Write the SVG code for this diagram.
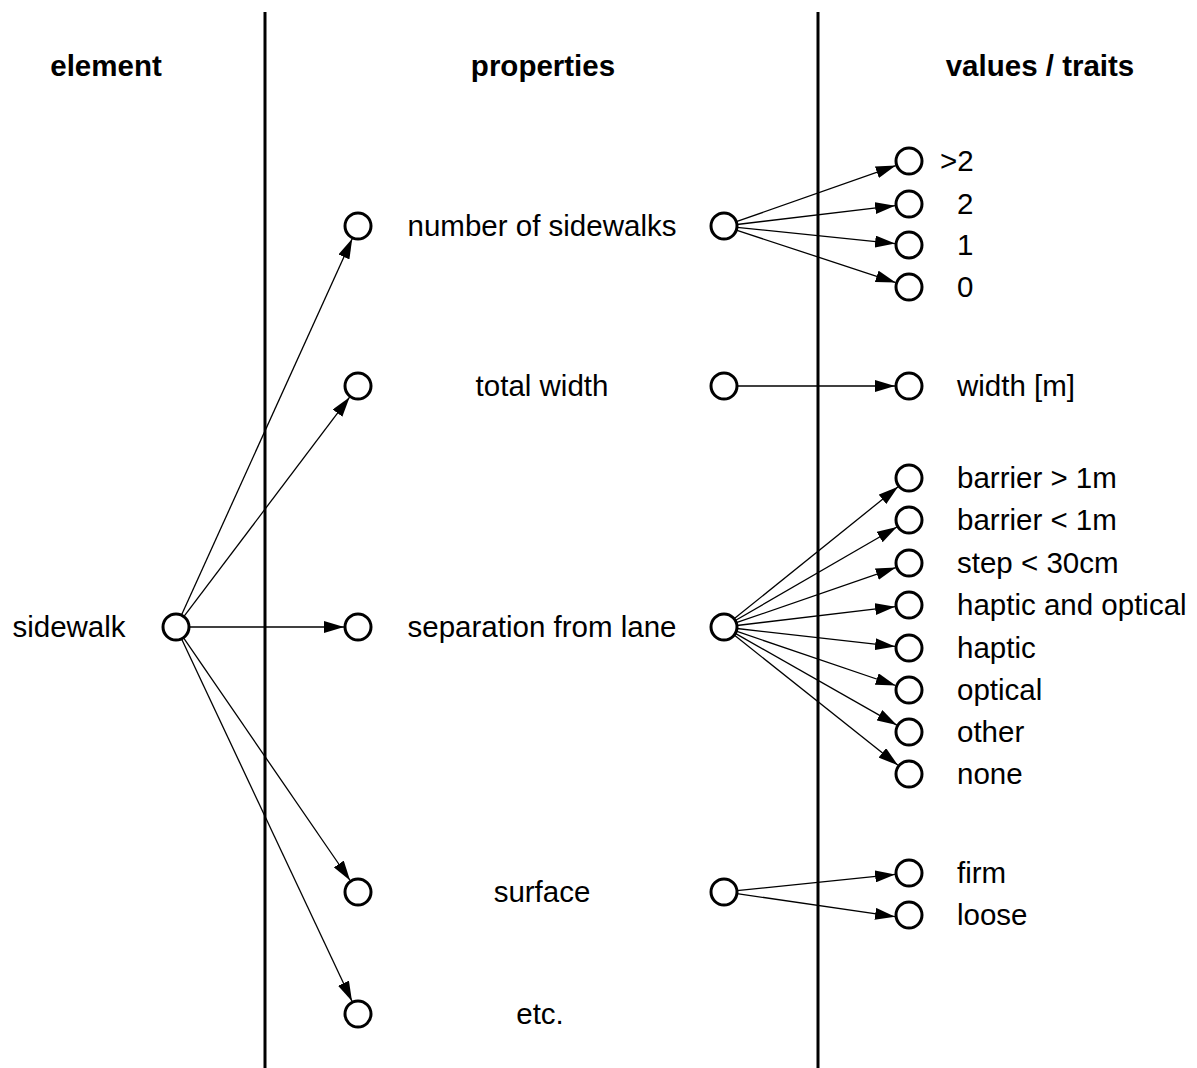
<svg xmlns="http://www.w3.org/2000/svg" width="1197" height="1068" viewBox="0 0 1197 1068">
<style>
.n{fill:#fff;stroke:#000;stroke-width:3}
.t{font-family:"Liberation Sans",Arial,sans-serif;font-size:29.5px;fill:#000}
.h{font-weight:bold;text-anchor:middle}
.c{text-anchor:middle}
.e{stroke:#000;stroke-width:1.3;fill:none;marker-end:url(#a)}
.d{stroke:#000;stroke-width:3}
</style>
<defs>
<marker id="a" markerUnits="userSpaceOnUse" markerWidth="20" markerHeight="12" refX="20" refY="6" orient="auto">
<path d="M0,0 L20,6 L0,12 z" fill="#000"/>
</marker>
</defs>
<rect width="1197" height="1068" fill="#fff"/>
<g id="dividers">
<line class="d" x1="265" y1="12" x2="265" y2="1068"/>
<line class="d" x1="818" y1="12" x2="818" y2="1068"/>
</g>
<g id="headers">
<text class="t h" x="106" y="76">element</text>
<text class="t h" x="543" y="76">properties</text>
<text class="t h" x="1040" y="76">values / traits</text>
</g>
<g id="connectors">
<line class="e" x1="181.4" y1="615.2" x2="352.2" y2="238.7"/>
<line class="e" x1="183.8" y1="616.6" x2="349.6" y2="397.2"/>
<line class="e" x1="189" y1="627" x2="344" y2="627"/>
<line class="e" x1="183.4" y1="637.7" x2="350.1" y2="880.5"/>
<line class="e" x1="181.5" y1="638.8" x2="352" y2="1001.3"/>
<line class="e" x1="736.3" y1="221.7" x2="895.8" y2="165.6"/>
<line class="e" x1="736.9" y1="224.5" x2="895.1" y2="205.7"/>
<line class="e" x1="736.9" y1="227.3" x2="895.1" y2="243.6"/>
<line class="e" x1="736.3" y1="230.1" x2="895.7" y2="282.6"/>
<line class="e" x1="737" y1="386" x2="895" y2="386"/>
<line class="e" x1="734.1" y1="618.8" x2="898.1" y2="486.8"/>
<line class="e" x1="735.3" y1="620.5" x2="896.9" y2="527"/>
<line class="e" x1="736.3" y1="622.7" x2="895.8" y2="567.6"/>
<line class="e" x1="736.9" y1="625.5" x2="895.1" y2="606.7"/>
<line class="e" x1="736.9" y1="628.5" x2="895.1" y2="646.4"/>
<line class="e" x1="736.3" y1="631.2" x2="895.7" y2="685.5"/>
<line class="e" x1="735.3" y1="633.4" x2="896.8" y2="725.1"/>
<line class="e" x1="734.2" y1="635.1" x2="898" y2="765.3"/>
<line class="e" x1="736.9" y1="890.7" x2="895.1" y2="874.4"/>
<line class="e" x1="736.9" y1="893.6" x2="895.1" y2="916.7"/>
</g>
<g id="sidewalk"><circle class="n" cx="176" cy="627" r="13"/><text class="t c" x="69" y="637">sidewalk</text></g>
<g id="p-number"><circle class="n" cx="358" cy="226" r="13"/><text class="t c" x="542" y="236">number of sidewalks</text><circle class="n" cx="724" cy="226" r="13"/></g>
<g id="p-width"><circle class="n" cx="358" cy="386" r="13"/><text class="t c" x="542" y="396">total width</text><circle class="n" cx="724" cy="386" r="13"/></g>
<g id="p-separation"><circle class="n" cx="358" cy="627" r="13"/><text class="t c" x="542" y="637">separation from lane</text><circle class="n" cx="724" cy="627" r="13"/></g>
<g id="p-surface"><circle class="n" cx="358" cy="892" r="13"/><text class="t c" x="542" y="902">surface</text><circle class="n" cx="724" cy="892" r="13"/></g>
<g id="p-etc"><circle class="n" cx="358" cy="1014" r="13"/><text class="t c" x="540" y="1024">etc.</text></g>
<g id="v-gt2"><circle class="n" cx="909" cy="161" r="13"/><text class="t" x="940" y="171">&gt;2</text></g>
<g id="v-2"><circle class="n" cx="909" cy="204" r="13"/><text class="t" x="957" y="214">2</text></g>
<g id="v-1"><circle class="n" cx="909" cy="245" r="13"/><text class="t" x="957" y="255">1</text></g>
<g id="v-0"><circle class="n" cx="909" cy="287" r="13"/><text class="t" x="957" y="297">0</text></g>
<g id="v-width"><circle class="n" cx="909" cy="386" r="13"/><text class="t" x="957" y="396">width [m]</text></g>
<g id="v-barrier-gt"><circle class="n" cx="909" cy="478" r="13"/><text class="t" x="957" y="488">barrier &gt; 1m</text></g>
<g id="v-barrier-lt"><circle class="n" cx="909" cy="520" r="13"/><text class="t" x="957" y="530">barrier &lt; 1m</text></g>
<g id="v-step"><circle class="n" cx="909" cy="563" r="13"/><text class="t" x="957" y="573">step &lt; 30cm</text></g>
<g id="v-haptic-optical"><circle class="n" cx="909" cy="605" r="13"/><text class="t" x="957" y="615">haptic and optical</text></g>
<g id="v-haptic"><circle class="n" cx="909" cy="648" r="13"/><text class="t" x="957" y="658">haptic</text></g>
<g id="v-optical"><circle class="n" cx="909" cy="690" r="13"/><text class="t" x="957" y="700">optical</text></g>
<g id="v-other"><circle class="n" cx="909" cy="732" r="13"/><text class="t" x="957" y="742">other</text></g>
<g id="v-none"><circle class="n" cx="909" cy="774" r="13"/><text class="t" x="957" y="784">none</text></g>
<g id="v-firm"><circle class="n" cx="909" cy="873" r="13"/><text class="t" x="957" y="883">firm</text></g>
<g id="v-loose"><circle class="n" cx="909" cy="915" r="13"/><text class="t" x="957" y="925">loose</text></g>
</svg>
